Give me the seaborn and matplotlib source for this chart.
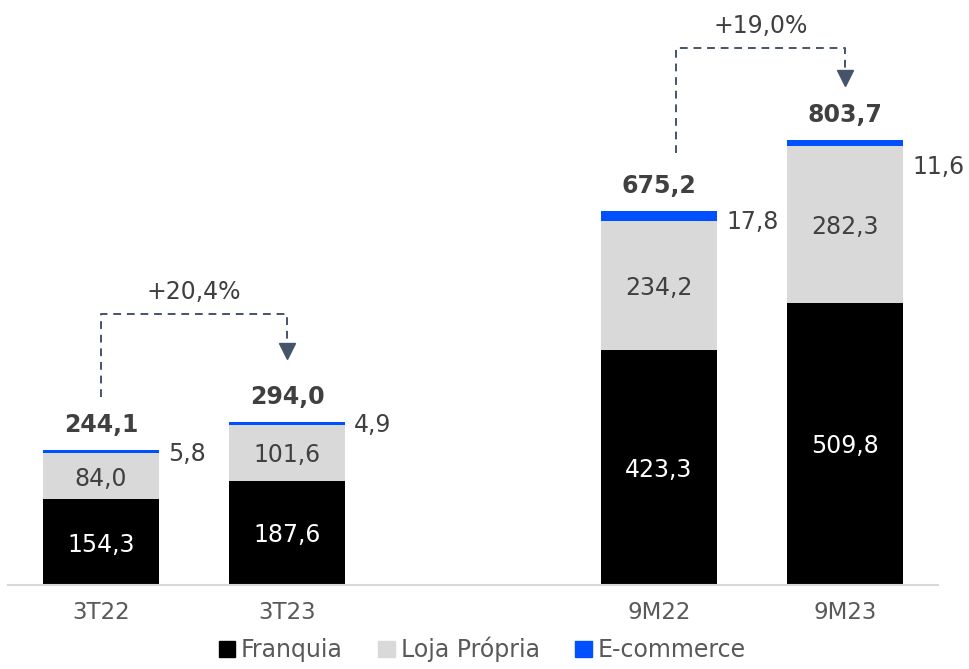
import pandas as pd
import matplotlib
matplotlib.use("Agg")
import matplotlib.pyplot as plt
import seaborn as sns
from matplotlib.patches import Patch

# Dados (R$ milhões)
periodos = ["3T22", "3T23", "9M22", "9M23"]
franquia = [154.3, 187.6, 423.3, 509.8]
loja_propria = [84.0, 101.6, 234.2, 282.3]
ecommerce = [5.8, 4.9, 17.8, 11.6]
totais = [244.1, 294.0, 675.2, 803.7]
crescimento = ["+20,4%", "+19,0%"]

ordem = ["3T22", "3T23", "", "9M22", "9M23"]

cor_franquia = "#000000"
cor_loja = "#D9D9D9"
cor_ecom = "#0050FF"
cor_texto = "#404040"
cor_seta = "#44546A"
tam = 17

df = pd.DataFrame({
    "periodo": periodos,
    "franquia": franquia,
    "loja": loja_propria,
    "ecom": ecommerce,
    "total": totais,
})
df["ate_loja"] = df["franquia"] + df["loja"]
df["ate_ecom"] = df["ate_loja"] + df["ecom"]

sns.set_style("white")
plt.rcParams["font.family"] = ["DejaVu Sans"]

fig = plt.figure(figsize=(9.7, 6.69), dpi=100)
ax = fig.add_axes([8 / 970, 84.5 / 669, 930 / 970, 584.5 / 669])

# barras empilhadas: desenha do topo para a base
largura = 0.62
sns.barplot(data=df, x="periodo", y="ate_ecom", order=ordem, color=cor_ecom,
            width=largura, saturation=1, ax=ax, linewidth=0)
sns.barplot(data=df, x="periodo", y="ate_loja", order=ordem, color=cor_loja,
            width=largura, saturation=1, ax=ax, linewidth=0)
sns.barplot(data=df, x="periodo", y="franquia", order=ordem, color=cor_franquia,
            width=largura, saturation=1, ax=ax, linewidth=0)

fmt = lambda v: f"{v:.1f}".replace(".", ",")
pos = [ordem.index(p) for p in periodos]
desloc_ecom = [2, 1, 4, 17]  # ajuste vertical (pt) dos rótulos de e-commerce

for i, row in df.iterrows():
    x = pos[i]
    ax.annotate(fmt(row["franquia"]), (x, row["franquia"] / 2), xytext=(0, -2),
                textcoords="offset points", ha="center", va="center",
                color="white", fontsize=tam)
    ax.annotate(fmt(row["loja"]), (x, row["franquia"] + row["loja"] / 2),
                xytext=(0, -2), textcoords="offset points", ha="center",
                va="center", color=cor_texto, fontsize=tam)
    ax.annotate(fmt(row["ecom"]), (x + 0.36, row["ate_loja"] + row["ecom"] / 2),
                xytext=(0, -desloc_ecom[i]), textcoords="offset points",
                ha="left", va="center", color=cor_texto, fontsize=tam)
    ax.annotate(fmt(row["total"]), (x, row["ate_ecom"]), xytext=(0, 18),
                textcoords="offset points", ha="center", va="center",
                color=cor_texto, fontsize=tam, fontweight="bold")

# setas de crescimento
setas = [
    # (x esquerda, x direita, y inicio, y topo, y ponta)
    (pos[0], pos[1], 339, 489, 423),
    (pos[2] + 0.09, pos[3], 780, 970, 916),
]
for (x0, x1, y0, ytop, yponta), txt in zip(setas, crescimento):
    ax.plot([x0, x0, x1, x1], [y0, ytop, ytop, yponta + 15], color=cor_seta,
            linewidth=1.4, linestyle=(0, (4, 3)))
    ax.plot([x1], [yponta], marker="v", markersize=12, color=cor_seta,
            linestyle="none")
    ax.text((x0 + x1) / 2, ytop + 40, txt, ha="center", va="center",
            color=cor_texto, fontsize=tam)

ax.set_xlim(-0.5, 4.5)
ax.set_ylim(0, 1057)
ax.set_xlabel("")
ax.set_ylabel("")
ax.set_yticks([])
ax.tick_params(axis="x", length=0, pad=12, labelsize=16.5, labelcolor="#595959")
for s in ["top", "left", "right"]:
    ax.spines[s].set_visible(False)
ax.spines["bottom"].set_color("#D9D9D9")
ax.spines["bottom"].set_linewidth(1.5)

handles = [Patch(color=cor_franquia, label="Franquia"),
           Patch(color=cor_loja, label="Loja Própria"),
           Patch(color=cor_ecom, label="E-commerce")]
leg = fig.legend(handles=handles, loc="lower center", bbox_to_anchor=(0.497, -0.022),
                 ncol=3, frameon=False, fontsize=tam, handlelength=0.7,
                 handleheight=0.7, handletextpad=0.25, columnspacing=1.5)
for t in leg.get_texts():
    t.set_color("#595959")

fig.savefig("out.png", dpi=100)
